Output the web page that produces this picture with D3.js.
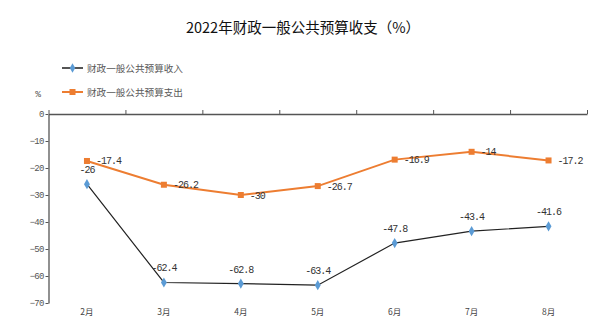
<!DOCTYPE html>
<html><head><meta charset="utf-8">
<script src="https://cdn.jsdelivr.net/npm/d3@7"></script>
<style>body{margin:0;background:#fff}svg{display:block}</style>
</head><body>
<svg id="c" width="605" height="324"></svg>
<script>
const categories = ["2月","3月","4月","5月","6月","7月","8月"];
const revenue = [-26, -62.4, -62.8, -63.4, -47.8, -43.4, -41.6];
const expenditure = [-17.4, -26.2, -30, -26.7, -16.9, -14, -17.2];
const yTicks = [0,-10,-20,-30,-40,-50,-60,-70];
const seriesNames = ["财政一般公共预算收入","财政一般公共预算支出"];
const title = "2022年财政一般公共预算收支（%）";

(function(){
const svg = d3.select("#c");
const cjk = "'Noto Sans CJK SC', sans-serif";
const mono = "'Liberation Mono', monospace";
const pl = 48.5, pr = 587, pt = 114, pb = 303;

const x = d3.scaleBand().domain(categories).range([pl, pr]);
const xb = d3.scaleLinear().domain([0, categories.length]).range([pl, pr]);
const y = d3.scaleLinear().domain([-70, 0]).range([pb, pt]);
const cx = d => x(d) + x.bandwidth()/2;

svg.append("text").attr("x", 303).attr("y", 33).attr("text-anchor","middle")
  .attr("font-family", cjk).attr("font-size", 14.5).attr("fill","#111").text(title);

const ya = svg.append("g").attr("transform",`translate(${pl},0)`)
  .call(d3.axisLeft(y).tickValues(yTicks).tickSize(3).tickSizeOuter(0).tickFormat(d3.format("d")));
ya.select(".domain").attr("stroke","#555").attr("stroke-width",1.3);
ya.selectAll(".tick line").attr("stroke","#555");
ya.selectAll(".tick text").attr("font-family", mono).attr("font-size", 9).attr("letter-spacing", -0.8)
  .attr("fill","#555").attr("x",-5);

const xa = svg.append("g").attr("transform",`translate(0,${y(0)})`)
  .call(d3.axisTop(xb).ticks(categories.length).tickSize(4).tickSizeOuter(0).tickFormat(""));
xa.select(".domain").attr("stroke","#555").attr("stroke-width",1.3);
xa.selectAll(".tick line").attr("stroke","#555");

const xl = svg.append("g").attr("transform",`translate(0,306)`)
  .call(d3.axisBottom(x).tickSize(0));
xl.select(".domain").remove();
xl.selectAll(".tick text").attr("font-family", cjk).attr("font-size", 8.5).attr("fill","#444");

svg.append("text").attr("x", 38).attr("y", 97).attr("text-anchor","middle")
  .attr("font-family", mono).attr("font-size", 9.5).attr("fill","#555").text("%");

const line = d3.line().x((d,i)=>cx(categories[i])).y(d=>y(d));

svg.append("path").datum(revenue).attr("d", line).attr("fill","none").attr("stroke","#222").attr("stroke-width",1.2);
svg.selectAll(".rev").data(revenue).enter().append("path")
  .attr("d", d3.symbol(d3.symbolDiamond, 30)())
  .attr("transform",(d,i)=>`translate(${cx(categories[i])},${y(d)})`).attr("fill","#5B9BD5");
svg.selectAll(".revl").data(revenue).enter().append("text")
  .attr("x",(d,i)=>cx(categories[i])).attr("y",d=>y(d)-11).attr("text-anchor","middle")
  .attr("font-family", mono).attr("font-size", 10).attr("letter-spacing",-1).attr("fill","#333").text(d=>d);

svg.append("path").datum(expenditure).attr("d", line).attr("fill","none").attr("stroke","#ED7D31").attr("stroke-width",2);
svg.selectAll(".exp").data(expenditure).enter().append("rect")
  .attr("x",(d,i)=>cx(categories[i])-3).attr("y",d=>y(d)-3).attr("width",6).attr("height",6).attr("fill","#ED7D31");
svg.selectAll(".expl").data(expenditure).enter().append("text")
  .attr("x",(d,i)=>cx(categories[i])+9).attr("y",d=>y(d)+3.5).attr("text-anchor","start")
  .attr("font-family", mono).attr("font-size", 10).attr("letter-spacing",-1).attr("fill","#333").text(d=>d);

const lg = [{c:"#5B9BD5", lc:"#555", y:68, shape:"diamond"},{c:"#ED7D31", lc:"#ED7D31", y:92, shape:"square"}];
lg.forEach((l,i)=>{
  svg.append("line").attr("x1",62).attr("x2",83).attr("y1",l.y).attr("y2",l.y).attr("stroke",l.lc).attr("stroke-width",2);
  if (l.shape==="diamond") svg.append("path").attr("d", d3.symbol(d3.symbolDiamond, 26)()).attr("transform",`translate(72.5,${l.y})`).attr("fill",l.c);
  else svg.append("rect").attr("x",69.5).attr("y",l.y-3).attr("width",6).attr("height",6).attr("fill",l.c);
  svg.append("text").attr("x",87).attr("y",l.y+3.5).attr("font-family",cjk).attr("font-size",9.6).attr("fill","#595959").text(seriesNames[i]);
});
})();
</script>
</body></html>
